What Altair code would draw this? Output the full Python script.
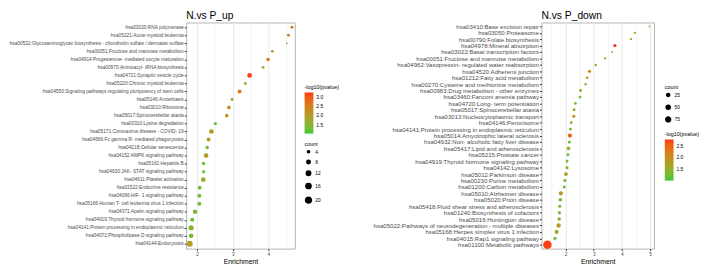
import altair as alt
import pandas as pd

FONT = "Liberation Sans"

up_terms = [
    "hsa03020:RNA polymerase",
    "hsa05221:Acute myeloid leukemia",
    "hsa00532:Glycosaminoglycan biosynthesis - chondroitin sulfate / dermatan sulfate",
    "hsa00051:Fructose and mannose metabolism",
    "hsa04914:Progesterone- mediated oocyte maturation",
    "hsa00970:Aminoacyl- tRNA biosynthesis",
    "hsa04721:Synaptic vesicle cycle",
    "hsa05220:Chronic myeloid leukemia",
    "hsa04550:Signaling pathways regulating pluripotency of stem cells",
    "hsa05146:Amoebiasis",
    "hsa03010:Ribosome",
    "hsa05017:Spinocerebellar ataxia",
    "hsa00310:Lysine degradation",
    "hsa05171:Coronavirus disease - COVID- 19",
    "hsa04666:Fc gamma R- mediated phagocytosis",
    "hsa04218:Cellular senescence",
    "hsa04152:AMPK signaling pathway",
    "hsa05161:Hepatitis B",
    "hsa04630:JAK- STAT signaling pathway",
    "hsa04611:Platelet activation",
    "hsa01522:Endocrine resistance",
    "hsa04066:HIF- 1 signaling pathway",
    "hsa05166:Human T- cell leukemia virus 1 infection",
    "hsa04371:Apelin signaling pathway",
    "hsa04919:Thyroid hormone signaling pathway",
    "hsa04141:Protein processing in endoplasmic reticulum",
    "hsa04072:Phospholipase D signaling pathway",
    "hsa04144:Endocytosis",
]
up_enrich = [4.66, 4.56, 4.52, 4.11, 3.99, 3.85, 3.47, 3.35, 3.19, 2.98, 2.89, 2.83,
             2.51, 2.40, 2.32, 2.28, 2.25, 2.18, 2.18, 2.17, 2.07, 2.06, 2.06, 1.94,
             1.86, 1.83, 1.83, 1.79]
up_count = [6, 6, 3, 6, 8, 6, 13, 6, 10, 6, 9, 9, 7, 13, 10, 8, 13, 8, 7, 13, 9, 10,
            10, 12, 11, 16, 13, 21]
up_logp = [2.7, 2.4, 1.2, 2.2, 2.7, 1.6, 3.25, 1.4, 2.6, 1.5, 2.3, 2.2, 1.3, 2.1, 2.0,
           1.4, 2.0, 1.3, 1.3, 1.8, 1.4, 1.4, 1.4, 1.5, 1.3, 1.5, 1.4, 2.0]

down_terms = [
    "hsa03410:Base excision repair",
    "hsa03050:Proteasome",
    "hsa00790:Folate biosynthesis",
    "hsa04978:Mineral absorption",
    "hsa03022:Basal transcription factors",
    "hsa00051:Fructose and mannose metabolism",
    "hsa04962:Vasopressin- regulated water reabsorption",
    "hsa04520:Adherens junction",
    "hsa01212:Fatty acid metabolism",
    "hsa00270:Cysteine and methionine metabolism",
    "hsa00983:Drug metabolism -  other enzymes",
    "hsa03460:Fanconi anemia pathway",
    "hsa04720:Long- term potentiation",
    "hsa05017:Spinocerebellar ataxia",
    "hsa03013:Nucleocytoplasmic transport",
    "hsa04146:Peroxisome",
    "hsa04141:Protein processing in endoplasmic reticulum",
    "hsa05014:Amyotrophic lateral sclerosis",
    "hsa04932:Non- alcoholic fatty liver disease",
    "hsa05417:Lipid and atherosclerosis",
    "hsa05215:Prostate cancer",
    "hsa04919:Thyroid hormone signaling pathway",
    "hsa04142:Lysosome",
    "hsa05012:Parkinson disease",
    "hsa00230:Purine metabolism",
    "hsa01200:Carbon metabolism",
    "hsa05010:Alzheimer disease",
    "hsa05020:Prion disease",
    "hsa05418:Fluid shear stress and atherosclerosis",
    "hsa01240:Biosynthesis of cofactors",
    "hsa05016:Huntington disease",
    "hsa05022:Pathways of neurodegeneration -  multiple diseases",
    "hsa05168:Herpes simplex virus 1 infection",
    "hsa04015:Rap1 signaling pathway",
    "hsa01100:Metabolic pathways",
]
down_enrich = [4.98, 4.46, 4.32, 3.75, 3.65, 3.40, 3.07, 2.85, 2.76, 2.71, 2.53, 2.51,
               2.35, 2.30, 2.29, 2.20, 2.17, 2.15, 2.13, 2.10, 2.08, 2.05, 2.05, 2.01,
               1.97, 1.95, 1.83, 1.81, 1.79, 1.78, 1.77, 1.75, 1.68, 1.62, 1.35]
down_count = [5, 10, 10, 29, 5, 10, 13, 27, 18, 14, 23, 18, 18, 23, 27, 18, 23, 54, 27,
              38, 23, 23, 27, 46, 27, 23, 54, 38, 27, 27, 38, 60, 54, 30, 250]
down_logp = [1.5, 1.7, 1.6, 2.78, 1.1, 1.3, 1.3, 2.0, 1.8, 1.5, 1.8, 1.3, 1.2, 1.4, 1.9,
             1.3, 1.3, 2.5, 1.3, 1.4, 1.2, 1.3, 1.5, 1.7, 1.3, 1.2, 1.8, 1.3, 1.3, 1.3,
             1.4, 1.8, 1.6, 1.2, 2.75]

GREEN = "#3cc83c"
RED = "#ff3a14"


def panel(terms, enrich, count, logp, title, xdom, xvals, label_size, width, height,
          size_dom, size_range, size_vals, color_dom, color_vals,
          color_pos, size_pos):
    df = pd.DataFrame({"Term": terms, "Enrichment": enrich, "count": count, "logp": logp})
    return alt.Chart(df, title=alt.TitleParams(
        title, anchor="start", frame="group", fontSize=10.5, fontWeight="normal",
        font=FONT, color="black", offset=1)).mark_circle(opacity=1).encode(
        x=alt.X("Enrichment:Q",
                scale=alt.Scale(domain=xdom, nice=False, zero=False),
                axis=alt.Axis(values=xvals, title="Enrichment", titleFontSize=7,
                              titleFont=FONT, titleFontWeight="normal", titleColor="black",
                              titlePadding=1, labelFontSize=5, labelFont=FONT,
                              labelColor="#4d4d4d", labelPadding=1, tickSize=2,
                              tickColor="#333333", domain=False, gridColor="#e6e6e6",
                              labelExpr="datum.value % 1 ? '' : format(datum.value, 'd')",
                              tickOpacity=alt.ExprRef(expr="datum.value % 1 ? 0 : 1"),
                              gridWidth=alt.ExprRef(expr="datum.value % 1 ? 0.5 : 0.9"))),
        y=alt.Y("Term:N", sort=terms,
                scale=alt.Scale(padding=0.6),
                axis=alt.Axis(title=None, labelFontSize=label_size, labelFont=FONT,
                              labelColor="#4d4d4d", labelLimit=400, labelPadding=1,
                              tickSize=2, tickColor="#333333", domain=False,
                              gridColor="#e6e6e6", gridWidth=0.9)),
        color=alt.Color("logp:Q",
                        scale=alt.Scale(domain=color_dom, range=[GREEN, RED],
                                        interpolate="lab"),
                        legend=alt.Legend(title="-log10(pvalue)", orient="none",
                                          direction="vertical",
                                          legendX=color_pos[0], legendY=color_pos[1],
                                          values=color_vals, format=".1f",
                                          gradientLength=42, gradientThickness=9,
                                          titleFontSize=5.5, titleFontWeight="normal",
                                          titleFont=FONT, labelFontSize=5, labelFont=FONT,
                                          titlePadding=2, labelOffset=3)),
        size=alt.Size("count:Q",
                      scale=alt.Scale(domain=size_dom, range=size_range, zero=False),
                      legend=alt.Legend(title="count", orient="none",
                                        legendX=size_pos[0], legendY=size_pos[1],
                                        values=size_vals, symbolFillColor="black",
                                        symbolStrokeColor="black", symbolOpacity=1,
                                        titleFontSize=5.5, titleFontWeight="normal",
                                        titleFont=FONT, labelFontSize=5, labelFont=FONT,
                                        titlePadding=2, rowPadding=1, labelOffset=3)),
    ).properties(width=width, height=height)


H = 231
left = panel(up_terms, up_enrich, up_count, up_logp, "N.vs P_up",
             [1.69, 4.74], [2, 2.5, 3, 3.5, 4, 4.5], 4.9, 111, H,
             [3, 21], [3, 38], [4, 8, 12, 16, 20], [1.02, 3.25], [1.5, 2.0, 2.5, 3.0],
             (121, 64), (121, 122))
right = panel(down_terms, down_enrich, down_count, down_logp, "N.vs P_down",
              [1.14, 5.14], [1.5, 2, 2.5, 3, 3.5, 4, 4.5, 5], 6.2, 115, H,
              [5, 250], [4, 75], [25, 50, 75], [1.0, 2.78], [1.5, 2.0, 2.5],
              (126, 112), (126, 64))

chart = alt.hconcat(left, right, spacing=30).resolve_scale(
    color="independent", size="independent", x="independent", y="independent"
).resolve_legend(color="independent", size="independent").configure(
    padding={"left": 0, "top": 0, "right": 0, "bottom": 0},
    background="white",
).configure_view(stroke="#b3b3b3", strokeWidth=1)

chart.save("out.html", embed_options={"renderer": "svg", "actions": False})
